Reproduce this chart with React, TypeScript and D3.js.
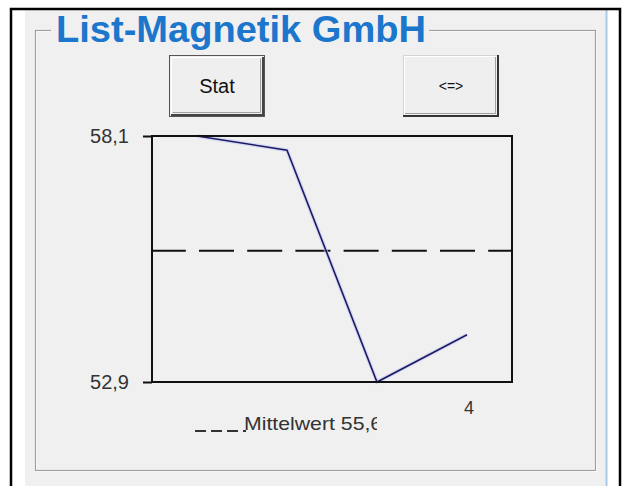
import React, { useRef, useEffect } from 'react'
import * as d3 from 'd3'

const title = 'List-Magnetik GmbH'
const buttonLabels = ['Stat', '<=>']
const points = [1, 2, 3, 4]
const values = [58.1, 57.8, 52.9, 53.9]
const xLabelled = [4]
const meanLabel = 'Mittelwert'

const W = 625
const H = 486
const FONT = "'Liberation Sans', Arial, sans-serif"

const App = () => {
  const ref = useRef<SVGSVGElement>(null)

  useEffect(() => {
    if (!ref.current) return
    const svg = d3.select(ref.current)
    svg.selectAll('*').remove()

    // window chrome
    svg.append('rect').attr('width', W).attr('height', H).attr('fill', '#fff')
    svg.append('rect').attr('x', 25).attr('y', 10).attr('width', 581).attr('height', H - 10).attr('fill', '#f0f0f0')
    svg.append('line').attr('x1', 606.5).attr('x2', 606.5).attr('y1', 10).attr('y2', H)
      .attr('stroke', '#a9c9e6').attr('stroke-width', 2)
    svg.append('path').attr('d', `M11,${H} V9 H620 V${H}`)
      .attr('fill', 'none').attr('stroke', '#000').attr('stroke-width', 2.5)

    // group box (etched)
    svg.append('rect').attr('x', 35.5).attr('y', 30.5).attr('width', 560).attr('height', 440)
      .attr('fill', 'none').attr('stroke', '#fff').attr('stroke-width', 1).attr('transform', 'translate(1,1)')
    svg.append('rect').attr('x', 35.5).attr('y', 30.5).attr('width', 560).attr('height', 440)
      .attr('fill', 'none').attr('stroke', '#a0a0a0').attr('stroke-width', 1.2)
    svg.append('rect').attr('x', 51).attr('y', 24).attr('width', 378).attr('height', 12).attr('fill', '#f0f0f0')
    svg.append('text').attr('x', 56).attr('y', 42)
      .attr('font-family', FONT).attr('font-weight', 'bold').attr('font-size', 37)
      .attr('textLength', 370).attr('lengthAdjust', 'spacingAndGlyphs')
      .attr('fill', '#1b76cc').text(title)

    // buttons
    const btnX = d3.scaleOrdinal<string, number>().domain(buttonLabels).range([169, 403])
    buttonLabels.forEach((lab, i) => {
      const g = svg.append('g').attr('transform', `translate(${btnX(lab)},55)`)
      const bw = 96, bh = 62
      g.append('rect').attr('width', bw).attr('height', bh).attr('fill', '#efefef')
      if (i === 0) {
        g.append('rect').attr('x', 0.5).attr('y', 0.5).attr('width', bw - 1).attr('height', bh - 1)
          .attr('fill', 'none').attr('stroke', '#555')
        g.append('path').attr('d', `M2.5,${bh - 3} V2.5 H${bw - 3}`).attr('fill', 'none').attr('stroke', '#fff')
        g.append('path').attr('d', `M2,${bh - 2} H${bw - 2} V2`).attr('fill', 'none').attr('stroke', '#444').attr('stroke-width', 2)
        g.append('path').attr('d', `M3.5,${bh - 4.5} H${bw - 4.5} V3.5`).attr('fill', 'none').attr('stroke', '#a0a0a0')
      } else {
        g.append('path').attr('d', `M0.5,${bh} V0.5 H${bw}`).attr('fill', 'none').attr('stroke', '#d4d4d4')
        g.append('path').attr('d', `M1.5,${bh - 2} V1.5 H${bw - 2}`).attr('fill', 'none').attr('stroke', '#fff')
        g.append('path').attr('d', `M0,${bh - 1} H${bw - 1} V0`).attr('fill', 'none').attr('stroke', '#333').attr('stroke-width', 2)
        g.append('path').attr('d', `M2,${bh - 3.5} H${bw - 3.5} V2`).attr('fill', 'none').attr('stroke', '#a0a0a0')
      }
      g.append('text').attr('x', bw / 2).attr('y', bh / 2).attr('dy', '0.36em')
        .attr('text-anchor', 'middle').attr('font-family', FONT)
        .attr('font-size', i === 0 ? 20 : 14).attr('fill', '#111').text(lab)
    })

    // plot
    const left = 152, right = 512, top = 136, bottom = 382
    const x = d3.scaleLinear().domain([0.5, 4.5]).range([left, right])
    const yExt = d3.extent(values) as [number, number]
    const y = d3.scaleLinear().domain(yExt).range([bottom, top])
    const comma = (v: number, f: string) => d3.format(f)(v).replace('.', ',')
    const mean = d3.mean(values) as number

    // dashed mean line
    svg.append('line').attr('x1', left).attr('x2', right).attr('y1', y(mean)).attr('y2', y(mean))
      .attr('stroke', '#111').attr('stroke-width', 2)
      .attr('stroke-dasharray', '35 13.2').attr('stroke-dashoffset', 1.2)

    // data line
    const line = d3.line<number>().x((_, i) => x(points[i])).y(d => y(d))
    svg.append('path').attr('d', line(values))
      .attr('fill', 'none').attr('stroke', '#c8c8f4').attr('stroke-width', 4).attr('opacity', 0.6)
    svg.append('path').attr('d', line(values))
      .attr('fill', 'none').attr('stroke', '#1c1c66').attr('stroke-width', 1.6)

    // frame
    svg.append('rect').attr('x', left).attr('y', top).attr('width', right - left).attr('height', bottom - top)
      .attr('fill', 'none').attr('stroke', '#111').attr('stroke-width', 2)

    // y axis: only the extremes
    const yAxis = d3.axisLeft(y).tickValues(yExt).tickSize(9).tickPadding(14)
      .tickFormat(d => comma(d as number, '.1f'))
    svg.append('g').attr('transform', `translate(${left},0)`).call(yAxis)
      .call(g => g.select('.domain').remove())
      .call(g => g.selectAll('line').attr('stroke', '#111').attr('stroke-width', 2))
      .call(g => g.selectAll('text').attr('font-family', FONT).attr('font-size', 20).attr('fill', '#333'))

    // x label for last point
    svg.append('g').selectAll('text').data(xLabelled).join('text')
      .attr('x', d => x(d) + 2).attr('y', 414)
      .attr('text-anchor', 'middle').attr('font-family', FONT).attr('font-size', 18).attr('fill', '#333')
      .text(d => String(d))

    // legend (label is cut off at the right, like in the original)
    svg.append('clipPath').attr('id', 'legClip').append('rect')
      .attr('x', 180).attr('y', 400).attr('width', 197).attr('height', 50)
    const leg = svg.append('g').attr('clip-path', 'url(#legClip)')
    leg.append('line').attr('x1', 195).attr('x2', 246).attr('y1', 431).attr('y2', 431)
      .attr('stroke', '#333').attr('stroke-width', 1.8).attr('stroke-dasharray', '11 5')
    leg.append('text').attr('x', 244).attr('y', 430)
      .attr('font-family', FONT).attr('font-size', 19).attr('fill', '#333')
      .attr('textLength', 150).attr('lengthAdjust', 'spacingAndGlyphs')
      .text(`${meanLabel} ${comma(mean, '.2f')}`)
  }, [])

  return (
    <svg ref={ref} width={W} height={H}
      style={{ position: 'absolute', left: 0, top: 0, display: 'block' }} />
  )
}

export default App
